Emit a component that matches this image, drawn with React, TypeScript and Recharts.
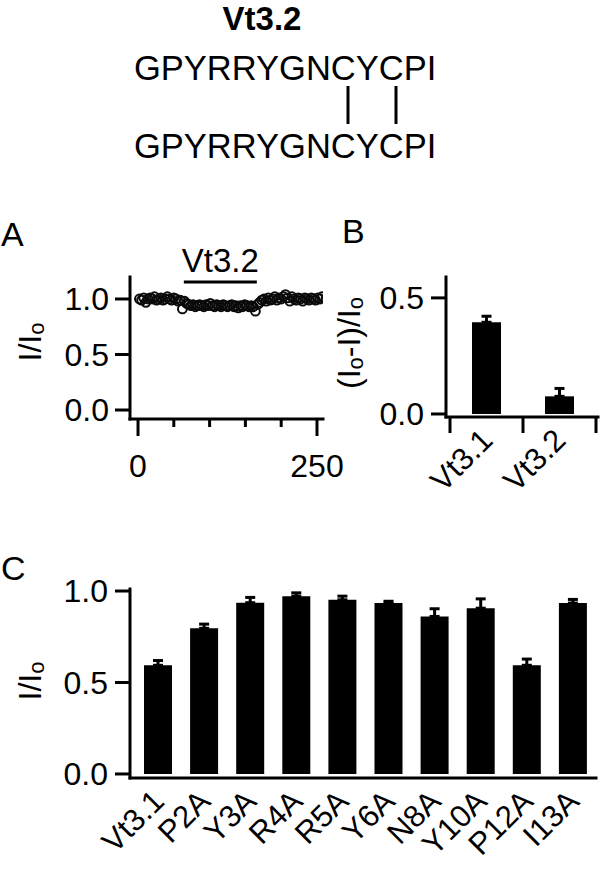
import React from "react";
import {
  ScatterChart,
  Scatter,
  BarChart,
  Bar,
  XAxis,
  YAxis,
  ErrorBar,
  ReferenceLine,
} from "recharts";

const FONT = '"Liberation Sans", Arial, Helvetica, sans-serif';

// header
const peptideName = "Vt3.2";
const peptideSequence = "GPYRRYGNCYCPI";

// panel A: current trace during toxin application (time in s, I/I0)
const traceTime = [
  2, 5, 8, 11, 14, 17, 20, 23, 26, 29,
  32, 35, 38, 41, 44, 47, 50, 53, 56, 59,
  62, 65, 68, 71, 74, 77, 80, 83, 86, 89,
  92, 95, 98, 101, 104, 107, 110, 113, 116, 119,
  122, 125, 128, 131, 134, 137, 140, 143, 146, 149,
  152, 155, 158, 161, 164, 167, 170, 173, 176, 179,
  182, 185, 188, 191, 194, 197, 200, 203, 206, 209,
  212, 215, 218, 221, 224, 227, 230, 233, 236, 239,
  242, 245, 248, 251, 254, 257,
];
const traceValue = [
  1.0, 0.99, 1.01, 0.97, 1.0, 1.01, 1.0, 1.02, 0.99, 1.0,
  1.01, 0.99, 1.0, 1.02, 1.0, 0.99, 1.01, 1.0, 0.98, 0.99,
  0.91, 0.98, 0.96, 0.95, 0.94, 0.95, 0.93, 0.94, 0.95, 0.94,
  0.93, 0.95, 0.94, 0.96, 0.94, 0.93, 0.95, 0.94, 0.93, 0.95,
  0.94, 0.93, 0.94, 0.95, 0.93, 0.94, 0.92, 0.94, 0.93, 0.95,
  0.94, 0.93, 0.94, 0.93, 0.89, 0.95, 0.97, 0.99, 1.0, 0.98,
  1.01, 0.99, 1.0, 1.02, 0.99, 1.01, 1.0, 1.02, 1.04, 1.01,
  0.98, 1.02, 1.0, 0.99, 1.01, 1.0, 0.98, 1.01, 1.0, 0.99,
  1.01, 1.0, 0.99, 1.01, 1.0, 1.02,
];
const drugWindow = [64, 166];
const traceTicks = [0, 50, 100, 150, 200, 250];
const traceLabelledTicks = [0, 250];

// panel B: fractional block
const blockNames = ["Vt3.1", "Vt3.2"];
const blockMean = [0.395, 0.076];
const blockSem = [0.026, 0.034];

// panel C: alanine scan
const scanNames = ["Vt3.1", "P2A", "Y3A", "R4A", "R5A", "Y6A", "N8A", "Y10A", "P12A", "I13A"];
const scanMean = [0.594, 0.796, 0.936, 0.972, 0.952, 0.934, 0.861, 0.906, 0.594, 0.934];
const scanSem = [0.026, 0.023, 0.029, 0.018, 0.02, 0.01, 0.042, 0.051, 0.034, 0.02];

const traceData = traceTime.map((t, i) => ({ t, v: traceValue[i] }));
const blockData = blockNames.map((name, i) => ({ name, value: blockMean[i], err: [0, blockSem[i]] }));
const scanData = scanNames.map((name, i) => ({ name, value: scanMean[i], err: [0, scanSem[i]] }));

const axisStyle = { stroke: "#000", strokeWidth: 3, strokeLinecap: "square" as const };
const tickLineStyle = { stroke: "#000", strokeWidth: 3 };
const tickStyle = { fontSize: 32, fill: "#000" };

type Part = [string, boolean];

function AxisTitle({ x, y, parts }: { x: number; y: number; parts: Part[] }) {
  let shifted = false;
  return (
    <text
      x={x}
      y={y}
      transform={`rotate(-90, ${x}, ${y})`}
      textAnchor="middle"
      fontSize={32}
      fill="#000"
    >
      {parts.map(([s, sub], i) => {
        let dy = 0;
        if (sub && !shifted) {
          dy = 3;
          shifted = true;
        } else if (!sub && shifted) {
          dy = -3;
          shifted = false;
        }
        return (
          <tspan key={i} dy={dy} fontSize={sub ? 22 : 32}>
            {s}
          </tspan>
        );
      })}
    </text>
  );
}

const ioTitle: Part[] = [["I/I", false], ["o", true]];
const blockTitle: Part[] = [["(I", false], ["o", true], ["-I)/I", false], ["o", true]];

function TraceTick(props: any) {
  const { x, y, payload } = props;
  const major = traceLabelledTicks.includes(payload.value);
  return (
    <g>
      <line x1={x} y1={y} x2={x} y2={y + (major ? 17 : 8)} stroke="#000" strokeWidth={3} />
      {major && (
        <text x={x} y={y + 58} textAnchor="middle" fontSize={32} fill="#000">
          {payload.value}
        </text>
      )}
    </g>
  );
}

function SlantTick(props: any) {
  const { x, y, payload, index, visibleTicksCount, half, withLines } = props;
  const ax = x + 8;
  const ay = y + 25;
  return (
    <g>
      {withLines && (
        <line x1={x - half} y1={y} x2={x - half} y2={y + 16} stroke="#000" strokeWidth={3} />
      )}
      {withLines && index === visibleTicksCount - 1 && (
        <line x1={x + half} y1={y} x2={x + half} y2={y + 16} stroke="#000" strokeWidth={3} />
      )}
      <text
        x={ax}
        y={ay}
        textAnchor="end"
        fontSize={31}
        fill="#000"
        transform={`rotate(-45, ${ax}, ${ay})`}
      >
        {payload.value}
      </text>
    </g>
  );
}

function Circle(props: any) {
  const { cx, cy } = props;
  return <circle cx={cx} cy={cy} r={4.4} fill="none" stroke="#0a0a0a" strokeWidth={2} />;
}

export default function App() {
  return (
    <div
      style={{
        position: "absolute",
        left: 0,
        top: 0,
        width: 600,
        height: 869,
        background: "#fff",
        fontFamily: FONT,
        overflow: "hidden",
      }}
    >
      <svg width={600} height={869} style={{ position: "absolute", left: 0, top: 0 }}>
        <text x={262} y={30} textAnchor="middle" fontSize={33} fontWeight="bold" fill="#000">
          {peptideName}
        </text>
        <text x={134} y={80} fontSize={34.5} fill="#000">
          {peptideSequence}
        </text>
        <line x1={348} y1={86} x2={348} y2={124} stroke="#000" strokeWidth={3} />
        <line x1={396} y1={86} x2={396} y2={124} stroke="#000" strokeWidth={3} />
        <text x={134} y={158} fontSize={34.5} fill="#000">
          {peptideSequence}
        </text>
        <text x={1} y={246} fontSize={34} fill="#000">A</text>
        <text x={342} y={243} fontSize={34} fill="#000">B</text>
        <text x={1} y={580} fontSize={34} fill="#000">C</text>
      </svg>

      {/* A */}
      <div style={{ position: "absolute", left: 0, top: 180 }}>
        <ScatterChart width={348} height={320} margin={{ top: 97, right: 25, bottom: 21, left: 0 }}>
          <XAxis
            type="number"
            dataKey="t"
            domain={[-11.2, 258.4]}
            allowDataOverflow
            ticks={traceTicks}
            interval={0}
            height={60}
            axisLine={axisStyle}
            tickLine={false}
            tickSize={0}
            tickMargin={0}
            tick={<TraceTick />}
          />
          <YAxis
            type="number"
            dataKey="v"
            domain={[-0.081, 1.198]}
            allowDataOverflow
            ticks={[0, 0.5, 1]}
            interval={0}
            width={130}
            axisLine={axisStyle}
            tickLine={tickLineStyle}
            tickSize={15}
            tickMargin={6}
            tick={tickStyle}
            tickFormatter={(v: number) => v.toFixed(1)}
            label={{ content: () => <AxisTitle x={41} y={162} parts={ioTitle} /> }}
          />
          <ReferenceLine
            segment={[
              { x: drugWindow[0], y: 1.153 },
              { x: drugWindow[1], y: 1.153 },
            ]}
            stroke="#000"
            strokeWidth={3}
            ifOverflow="visible"
            label={{ value: peptideName, position: "top", offset: 10, fontSize: 33, fill: "#000" }}
          />
          <Scatter data={traceData} shape={<Circle />} isAnimationActive={false} />
        </ScatterChart>
      </div>

      {/* B */}
      <div style={{ position: "absolute", left: 324, top: 180 }}>
        <BarChart
          width={276}
          height={320}
          data={blockData}
          margin={{ top: 97, right: 2, bottom: 23, left: 0 }}
        >
          <XAxis
            dataKey="name"
            height={60}
            padding={{ left: 4, right: 2 }}
            axisLine={axisStyle}
            tickLine={false}
            tickSize={0}
            tickMargin={0}
            interval={0}
            tick={<SlantTick half={36.5} withLines />}
          />
          <YAxis
            type="number"
            domain={[-0.013, 0.59]}
            allowDataOverflow
            ticks={[0, 0.5]}
            interval={0}
            width={122}
            axisLine={axisStyle}
            tickLine={tickLineStyle}
            tickSize={15}
            tickMargin={7}
            tick={tickStyle}
            tickFormatter={(v: number) => v.toFixed(1)}
            label={{ content: () => <AxisTitle x={36} y={163} parts={blockTitle} /> }}
          />
          <Bar dataKey="value" fill="#000" barSize={29} isAnimationActive={false}>
            <ErrorBar dataKey="err" width={5} stroke="#000" strokeWidth={3} direction="y" />
          </Bar>
        </BarChart>
      </div>

      {/* C */}
      <div style={{ position: "absolute", left: 0, top: 560 }}>
        <BarChart
          width={600}
          height={309}
          data={scanData}
          margin={{ top: 29, right: 4, bottom: 31, left: 0 }}
        >
          <XAxis
            dataKey="name"
            height={60}
            padding={{ left: 5, right: 0 }}
            axisLine={axisStyle}
            tickLine={false}
            tickSize={0}
            tickMargin={0}
            interval={0}
            tick={<SlantTick half={23} withLines={false} />}
          />
          <YAxis
            type="number"
            domain={[-0.022, 1.011]}
            allowDataOverflow
            ticks={[0, 0.5, 1]}
            interval={0}
            width={130}
            axisLine={axisStyle}
            tickLine={tickLineStyle}
            tickSize={15}
            tickMargin={7}
            tick={tickStyle}
            tickFormatter={(v: number) => v.toFixed(1)}
            label={{ content: () => <AxisTitle x={41} y={121} parts={ioTitle} /> }}
          />
          <Bar dataKey="value" fill="#000" barSize={28} isAnimationActive={false}>
            <ErrorBar dataKey="err" width={5} stroke="#000" strokeWidth={3} direction="y" />
          </Bar>
        </BarChart>
      </div>
    </div>
  );
}
